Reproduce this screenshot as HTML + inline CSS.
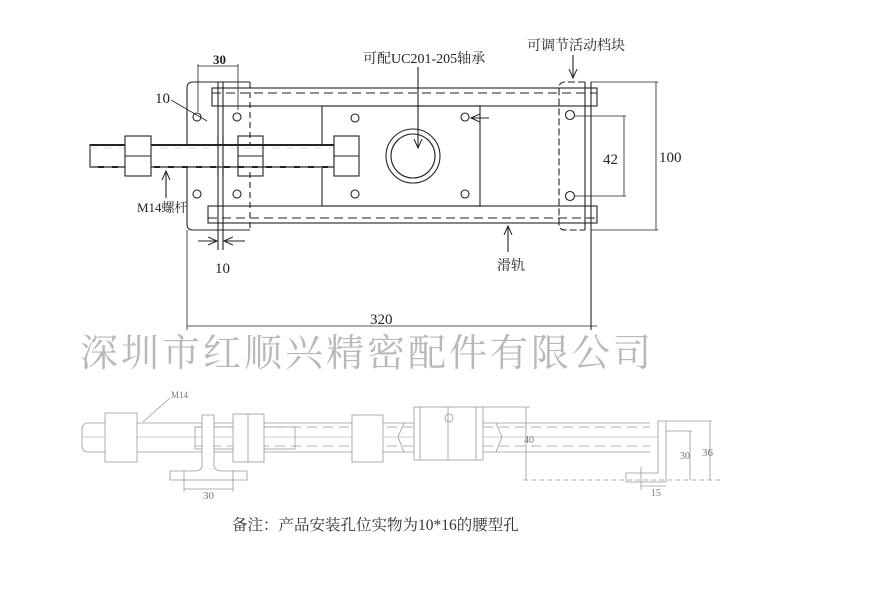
<!DOCTYPE html>
<html><head><meta charset="utf-8"><style>
html,body{margin:0;padding:0;background:#fff;}
svg{display:block}
text{font-family:"Liberation Serif","Noto Serif CJK SC","Noto Sans CJK SC",serif;}
</style></head><body>
<svg width="885" height="608" viewBox="0 0 885 608" xmlns="http://www.w3.org/2000/svg">
<defs>
<marker id="ar" markerWidth="10" markerHeight="10" refX="9" refY="5" orient="auto" markerUnits="userSpaceOnUse"><path d="M0,1 L9,5 L0,9" fill="none" stroke="#222" stroke-width="1"/></marker>
</defs>
<g stroke="#222" stroke-width="1.1" fill="none">
<rect x="212" y="88" width="385" height="18"/>
<line x1="212" y1="93" x2="597" y2="93" stroke-dasharray="9,5"/>
<rect x="208" y="206" width="389" height="17"/>
<line x1="208" y1="218" x2="597" y2="218" stroke-dasharray="9,5"/>
<path d="M250,82 L193,82 Q187,82 187,88 L187,224 Q187,230 193,230 L250,230"/>
<path d="M250,82 L250,230" stroke-dasharray="6,4"/>
<line x1="218" y1="82" x2="218" y2="250"/>
<line x1="223" y1="82" x2="223" y2="250"/>
<circle cx="197" cy="117" r="4"/><circle cx="237" cy="117" r="4"/>
<circle cx="197" cy="194" r="4"/><circle cx="237" cy="194" r="4"/>
<rect x="322" y="106" width="158" height="100"/>
<circle cx="413" cy="156" r="27"/><circle cx="413" cy="156" r="22"/>
<circle cx="355" cy="118" r="4"/><circle cx="465" cy="117" r="4"/>
<circle cx="355" cy="194" r="4"/><circle cx="465" cy="194" r="4"/>
<rect x="90" y="145" width="244" height="22" fill="#fff"/>
<line x1="90" y1="145" x2="334" y2="145" stroke-width="2"/>
<line x1="90" y1="167" x2="334" y2="167" stroke-width="2"/>
<line x1="90" y1="148" x2="334" y2="148" stroke="#ddd" stroke-dasharray="8,6"/>
<line x1="90" y1="167" x2="334" y2="167" stroke="#ccc" stroke-dasharray="8,6"/>
<rect x="125" y="136" width="26" height="40" fill="#fff"/><line x1="125" y1="156" x2="151" y2="156"/>
<rect x="238" y="136" width="25" height="40"/><line x1="238" y1="156" x2="263" y2="156"/>
<rect x="334" y="136" width="25" height="40" fill="#fff"/><line x1="334" y1="156" x2="359" y2="156"/>
<line x1="218" y1="136" x2="218" y2="176"/><line x1="223" y1="136" x2="223" y2="176"/>
<path d="M585,82 L565,82 Q559,82 559,88 L559,224 Q559,230 565,230 L585,230" stroke-dasharray="7,3"/>
<line x1="585" y1="82" x2="585" y2="230"/>
<line x1="591" y1="82" x2="591" y2="330"/>
<circle cx="570" cy="115" r="4.5"/><circle cx="570" cy="196" r="4.5"/>
<g stroke-width="0.8">
<line x1="591" y1="82" x2="658" y2="82"/><line x1="591" y1="230" x2="658" y2="230"/>
<line x1="656" y1="82" x2="656" y2="230"/>
<line x1="575" y1="116" x2="626" y2="116"/><line x1="575" y1="196" x2="626" y2="196"/>
<line x1="624" y1="116" x2="624" y2="196"/>
<line x1="187" y1="230" x2="187" y2="330"/>
<line x1="187" y1="326" x2="597" y2="326"/>
<line x1="198" y1="64" x2="198" y2="112"/><line x1="238" y1="64" x2="238" y2="110"/>
<line x1="198" y1="66" x2="238" y2="66"/>
<line x1="171" y1="100" x2="207" y2="121"/>
</g>
<line x1="198" y1="241" x2="217" y2="241" marker-end="url(#ar)"/>
<line x1="245" y1="241" x2="224" y2="241" marker-end="url(#ar)"/>
<line x1="418" y1="67" x2="418" y2="148" marker-end="url(#ar)"/>
<line x1="573" y1="55" x2="573" y2="78" marker-end="url(#ar)"/>
<line x1="508" y1="252" x2="508" y2="226" marker-end="url(#ar)"/>
<line x1="166" y1="198" x2="166" y2="171" marker-end="url(#ar)"/>
<line x1="489" y1="118" x2="471" y2="118" marker-end="url(#ar)"/>
</g>
<g fill="#222" font-size="15">
<text x="213" y="64" font-size="13" font-family="Liberation Sans,sans-serif" font-weight="bold">30</text>
<text x="155" y="103">10</text>
<text x="215" y="273">10</text>
<text x="363" y="63" font-size="14">可配UC201-205轴承</text>
<text x="527" y="50" font-size="14">可调节活动档块</text>
<text x="497" y="270" font-size="14">滑轨</text>
<text x="137" y="212" font-size="13">M14螺杆</text>
<text x="603" y="164">42</text>
<text x="659" y="162">100</text>
<text x="370" y="324">320</text>
</g>
<text x="80" y="366" font-size="38" fill="#b8b8b8" letter-spacing="3" font-family="Liberation Serif,'Noto Serif CJK SC',serif">深圳市红顺兴精密配件有限公司</text>
<g stroke="#999" stroke-width="0.8" fill="none">
<path d="M88,423 L650,423 M88,452 L650,452 M88,423 Q82,423 82,430 L82,445 Q82,452 88,452"/>
<line x1="82" y1="437" x2="660" y2="437" stroke="#bbb"/>
<line x1="195" y1="427" x2="650" y2="427" stroke-dasharray="10,6"/>
<line x1="195" y1="446" x2="650" y2="446" stroke-dasharray="10,6"/>
<rect x="195" y="427" width="100" height="22"/>
<rect x="105" y="413" width="32" height="49" fill="#fff"/>
<path d="M202,415 L202,465 Q202,471 195,471 L170,471 L170,480 L247,480 L247,471 L222,471 Q214,471 214,465 L214,415 Z" fill="#fff"/>
<rect x="233" y="414" width="31" height="48" fill="#fff"/><line x1="248" y1="414" x2="248" y2="462"/>
<rect x="352" y="415" width="31" height="47" fill="#fff"/>
<rect x="414" y="407" width="69" height="53" fill="#fff"/>
<line x1="420" y1="407" x2="420" y2="460"/><line x1="448" y1="407" x2="448" y2="460"/><line x1="476" y1="407" x2="476" y2="460"/>
<circle cx="449" cy="418" r="4"/>
<path d="M404,423 L398,437 L404,452 M496,423 L502,437 L496,452"/>
<path d="M658,421 L666,421 L666,482 L626,482 L626,473 L658,473 Z" fill="#fff"/>
<line x1="526" y1="407" x2="526" y2="480"/>
<line x1="483" y1="407" x2="530" y2="407"/>
<line x1="523" y1="480" x2="720" y2="480" stroke-dasharray="5,3"/>
<line x1="666" y1="431" x2="692" y2="431"/><line x1="690" y1="431" x2="690" y2="480"/>
<line x1="666" y1="421" x2="712" y2="421"/><line x1="710" y1="421" x2="710" y2="480"/>
<line x1="641" y1="467" x2="641" y2="490"/><line x1="641" y1="486" x2="666" y2="486"/>
<line x1="184" y1="470" x2="184" y2="492"/><line x1="233" y1="470" x2="233" y2="492"/>
<line x1="184" y1="489" x2="233" y2="489"/>
<line x1="143" y1="422" x2="170" y2="398"/>
</g>
<g fill="#777" font-size="11">
<text x="171" y="398" font-size="9">M14</text>
<text x="203" y="499">30</text>
<text x="524" y="443" font-size="10">40</text>
<text x="680" y="459" font-size="10">30</text>
<text x="702" y="456">36</text>
<text x="651" y="496" font-size="10">15</text>
</g>
<text x="232" y="530" font-size="15.5" fill="#333" font-family="Liberation Serif,'Noto Serif CJK SC',serif">备注：产品安装孔位实物为10*16的腰型孔</text>
</svg>
</body></html>
